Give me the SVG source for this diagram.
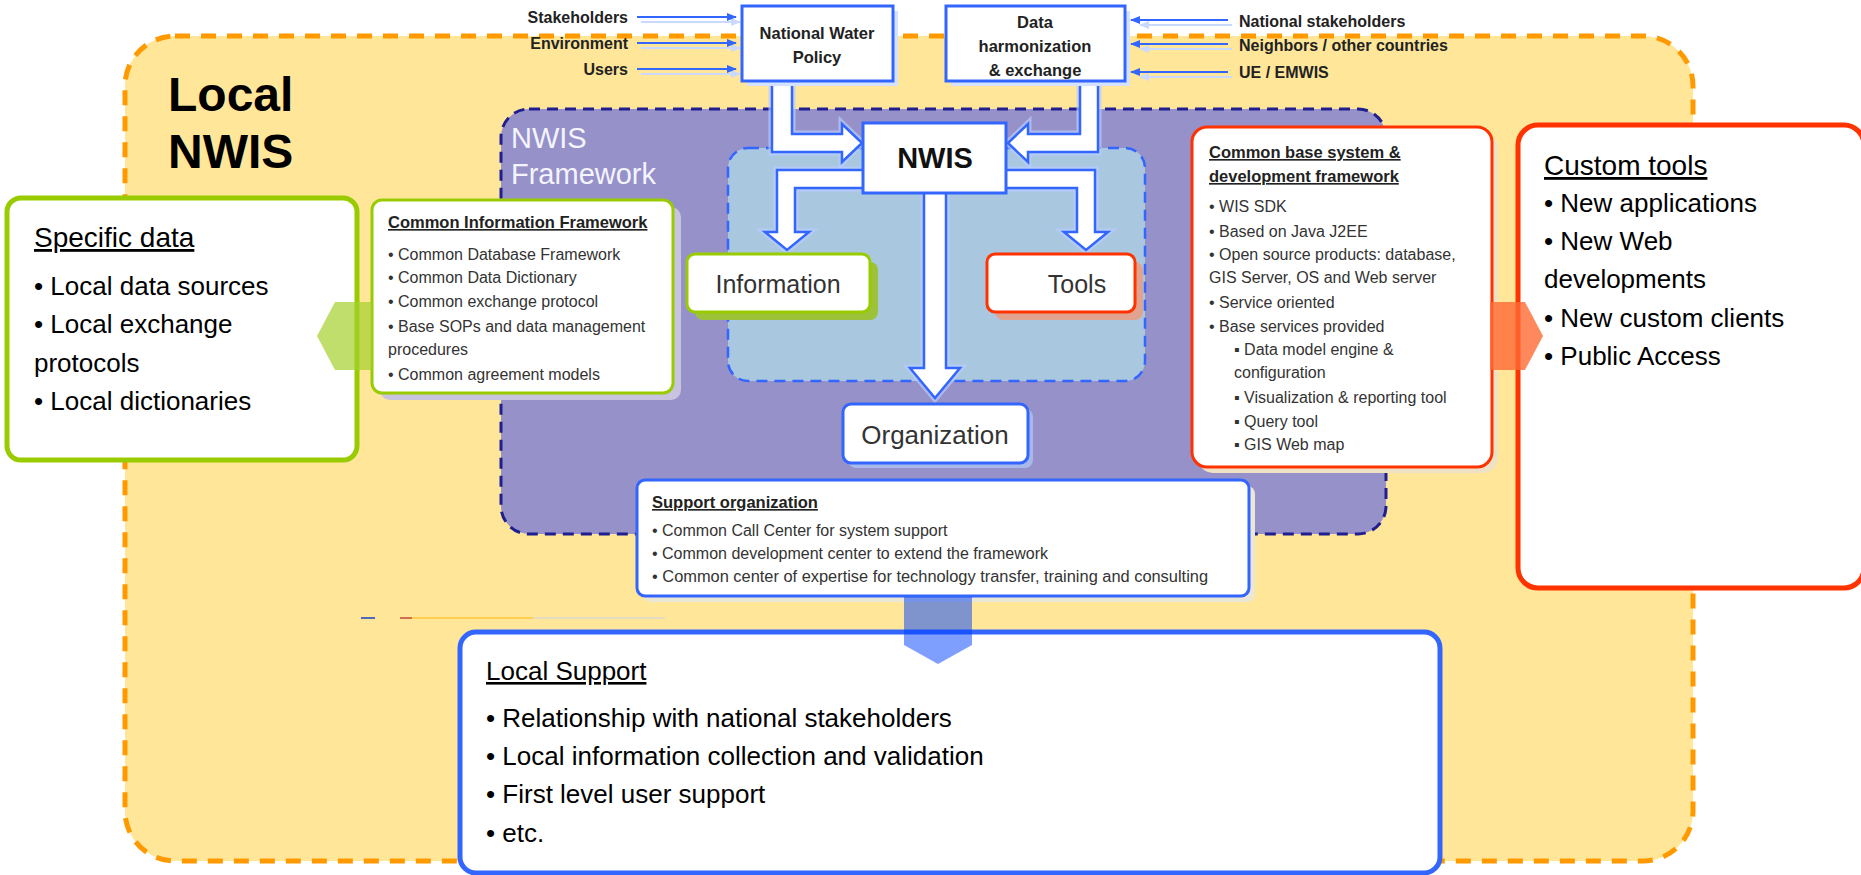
<svg xmlns="http://www.w3.org/2000/svg" width="1861" height="875" viewBox="0 0 1861 875">
<defs>
<style>
text{font-family:"Liberation Sans",Arial,sans-serif;}
.lbl{font-size:16px;font-weight:bold;fill:#222;}
.sm{font-size:16px;fill:#333;}
.smb{font-size:16.5px;font-weight:bold;fill:#222;text-decoration:underline;}
.big{font-size:26px;fill:#000;}
.bigt{font-size:28px;fill:#000;text-decoration:underline;}
.box{fill:#fff;}
.blk{fill:#fff;stroke:#3366FF;stroke-width:2.5;stroke-linejoin:miter;}
.blkglow{fill:none;stroke:#B8CCFF;stroke-width:7;stroke-linejoin:miter;opacity:.7;}
.thin{stroke:#3366FF;stroke-width:2;fill:none;}
.thinsh{stroke:#C9D9FF;stroke-width:2;fill:none;}
</style>
<marker id="ah" viewBox="0 0 10 8" refX="9" refY="4" markerWidth="10" markerHeight="8" markerUnits="userSpaceOnUse" orient="auto">
<path d="M0,0 L10,4 L0,8 Z" fill="#3366FF"/>
</marker>
<marker id="ahs" viewBox="0 0 10 8" refX="9" refY="4" markerWidth="10" markerHeight="8" markerUnits="userSpaceOnUse" orient="auto">
<path d="M0,0 L10,4 L0,8 Z" fill="#C9D9FF"/>
</marker>
</defs>
<rect width="1861" height="875" fill="#fff"/>

<!-- Outer Local NWIS -->
<g id="local-nwis">
<rect x="125" y="36" width="1568" height="825" rx="50" fill="#FFE699" stroke="#FF9900" stroke-width="5" stroke-dasharray="15 11"/>
<text x="168" y="111" style="font-size:48px;font-weight:bold;fill:#000">Local</text>
<text x="168" y="168" style="font-size:48px;font-weight:bold;fill:#000">NWIS</text>
</g>

<!-- artifact line -->
<g id="artifact">
<rect x="361" y="617" width="14" height="2" fill="#5566BB"/>
<rect x="400" y="617" width="12" height="2" fill="#D07050"/>
<rect x="412" y="617" width="121" height="2" fill="#FFD050"/>
<rect x="533" y="617" width="132" height="2" fill="#E6DDC0"/>
</g>

<!-- NWIS Framework -->
<g id="nwis-framework">
<rect x="501" y="109" width="885" height="425" rx="28" fill="#9691C8" stroke="#1F1F8F" stroke-width="3" stroke-dasharray="11 7"/>
<text x="511" y="148" style="font-size:29px;fill:#F4F4FF">NWIS</text>
<text x="511" y="184" style="font-size:29px;fill:#F4F4FF">Framework</text>
</g>

<g id="inner-frame">
<rect x="728" y="148" width="417" height="233" rx="20" fill="#A9C8E0" stroke="#3366FF" stroke-width="2.5" stroke-dasharray="11 7"/>
</g>

<!-- connectors -->
<g id="connectors">
<!-- thin input arrows -->
<line class="thinsh" x1="641" y1="22" x2="740" y2="22" marker-end="url(#ahs)"/>
<line class="thinsh" x1="641" y1="48" x2="740" y2="48" marker-end="url(#ahs)"/>
<line class="thinsh" x1="641" y1="74" x2="740" y2="74" marker-end="url(#ahs)"/>
<line class="thin" x1="637" y1="17" x2="736" y2="17" marker-end="url(#ah)"/>
<line class="thin" x1="637" y1="43" x2="736" y2="43" marker-end="url(#ah)"/>
<line class="thin" x1="637" y1="69" x2="736" y2="69" marker-end="url(#ah)"/>
<line class="thinsh" x1="1232" y1="25" x2="1140" y2="25" marker-end="url(#ahs)"/>
<line class="thinsh" x1="1232" y1="49" x2="1140" y2="49" marker-end="url(#ahs)"/>
<line class="thinsh" x1="1232" y1="77" x2="1140" y2="77" marker-end="url(#ahs)"/>
<line class="thin" x1="1228" y1="20" x2="1131" y2="20" marker-end="url(#ah)"/>
<line class="thin" x1="1228" y1="44" x2="1131" y2="44" marker-end="url(#ah)"/>
<line class="thin" x1="1228" y1="72" x2="1131" y2="72" marker-end="url(#ah)"/>

<!-- block arrows -->
<path class="blkglow" d="M772 76 L772 152 L842 152 L842 162 L862 143 L842 124 L842 134 L792 134 L792 76 Z"/>
<path class="blk" d="M772 76 L772 152 L842 152 L842 162 L862 143 L842 124 L842 134 L792 134 L792 76 Z"/>
<path class="blkglow" d="M1098 76 L1098 152 L1028 152 L1028 162 L1008 143 L1028 124 L1028 134 L1080 134 L1080 76 Z"/>
<path class="blk" d="M1098 76 L1098 152 L1028 152 L1028 162 L1008 143 L1028 124 L1028 134 L1080 134 L1080 76 Z"/>
<path class="blkglow" d="M868 170 L777 170 L777 232 L765 232 L787 250 L809 232 L795 232 L795 188 L868 188 Z"/>
<path class="blk" d="M868 170 L777 170 L777 232 L765 232 L787 250 L809 232 L795 232 L795 188 L868 188 Z"/>
<path class="blkglow" d="M1001 170 L1095 170 L1095 232 L1108 232 L1086 250 L1064 232 L1077 232 L1077 188 L1001 188 Z"/>
<path class="blk" d="M1001 170 L1095 170 L1095 232 L1108 232 L1086 250 L1064 232 L1077 232 L1077 188 L1001 188 Z"/>
<path class="blkglow" d="M924 188 L924 368 L910 368 L935 398 L960 368 L946 368 L946 188 Z"/>
<path class="blk" d="M924 188 L924 368 L910 368 L935 398 L960 368 L946 368 L946 188 Z"/>
</g>

<!-- top boxes -->
<g id="national-water-policy">
<rect x="747" y="11" width="151" height="75" fill="#D4E2FF"/>
<rect x="742" y="6" width="151" height="75" class="box" stroke="#3366FF" stroke-width="3"/>
<text x="817" y="39" text-anchor="middle" style="font-size:16.5px;font-weight:bold;fill:#222">National Water</text>
<text x="817" y="63" text-anchor="middle" style="font-size:16.5px;font-weight:bold;fill:#222">Policy</text>
</g>
<g id="data-harmonization">
<rect x="951" y="11" width="179" height="75" fill="#D4E2FF"/>
<rect x="946" y="6" width="179" height="75" class="box" stroke="#3366FF" stroke-width="3"/>
<text x="1035" y="28" text-anchor="middle" style="font-size:16.5px;font-weight:bold;fill:#222">Data</text>
<text x="1035" y="52" text-anchor="middle" style="font-size:16.5px;font-weight:bold;fill:#222">harmonization</text>
<text x="1035" y="76" text-anchor="middle" style="font-size:16.5px;font-weight:bold;fill:#222">&amp; exchange</text>
</g>
<g id="input-labels">
<text x="628" y="23" text-anchor="end" class="lbl">Stakeholders</text>
<text x="628" y="49" text-anchor="end" class="lbl">Environment</text>
<text x="628" y="75" text-anchor="end" class="lbl">Users</text>
<text x="1239" y="27" class="lbl">National stakeholders</text>
<text x="1239" y="51" class="lbl">Neighbors / other countries</text>
<text x="1239" y="78" class="lbl">UE / EMWIS</text>
</g>

<g id="nwis">
<rect x="863" y="123" width="143" height="70" class="box" stroke="#3366FF" stroke-width="3"/>
<text x="935" y="168" text-anchor="middle" style="font-size:29px;font-weight:bold;fill:#111">NWIS</text>
</g>

<g id="information">
<rect x="695" y="262" width="183" height="58" rx="8" fill="#9CC23A"/>
<rect x="687" y="254" width="183" height="58" rx="8" class="box" stroke="#99CC00" stroke-width="3"/>
<text x="778" y="293" text-anchor="middle" style="font-size:25px;fill:#333">Information</text>
</g>

<g id="tools">
<rect x="995" y="262" width="148" height="58" rx="8" fill="#E2A38E"/>
<rect x="987" y="254" width="148" height="58" rx="8" class="box" stroke="#FF3300" stroke-width="3"/>
<text x="1077" y="293" text-anchor="middle" style="font-size:25px;fill:#333">Tools</text>
</g>

<g id="organization">
<rect x="848" y="409" width="185" height="59" rx="8" fill="#A9B8EA"/>
<rect x="843" y="404" width="185" height="59" rx="8" class="box" stroke="#3366FF" stroke-width="3"/>
<text x="935" y="444" text-anchor="middle" style="font-size:26px;fill:#333">Organization</text>
</g>

<!-- Common Information Framework -->
<g id="common-information-framework">
<rect x="380" y="207" width="301" height="193" rx="10" fill="#C8C3DE"/>
<rect x="372" y="200" width="301" height="193" rx="10" class="box" stroke="#99CC00" stroke-width="3"/>
<text x="388" y="228" class="smb">Common Information Framework</text>
<text x="388" y="260" class="sm">• Common Database Framework</text>
<text x="388" y="283" class="sm">• Common Data Dictionary</text>
<text x="388" y="307" class="sm">• Common exchange protocol</text>
<text x="388" y="332" class="sm">• Base SOPs and data management</text>
<text x="388" y="355" class="sm">procedures</text>
<text x="388" y="380" class="sm">• Common agreement models</text>
</g>

<!-- Common base system -->
<g id="common-base-system">
<rect x="1198" y="133" width="300" height="340" rx="15" fill="#EFE2C4"/>
<rect x="1192" y="127" width="300" height="340" rx="15" class="box" stroke="#FF3300" stroke-width="3"/>
<text x="1209" y="158" class="smb">Common base system &amp;</text>
<text x="1209" y="182" class="smb">development framework</text>
<text x="1209" y="212" class="sm">• WIS SDK</text>
<text x="1209" y="237" class="sm">• Based on Java J2EE</text>
<text x="1209" y="260" class="sm">• Open source products: database,</text>
<text x="1209" y="283" class="sm">GIS Server, OS and Web server</text>
<text x="1209" y="308" class="sm">• Service oriented</text>
<text x="1209" y="332" class="sm">• Base services provided</text>
<text x="1234" y="355" class="sm">▪ Data model engine &amp;</text>
<text x="1234" y="378" class="sm">configuration</text>
<text x="1234" y="403" class="sm">▪ Visualization &amp; reporting tool</text>
<text x="1234" y="427" class="sm">▪ Query tool</text>
<text x="1234" y="450" class="sm">▪ GIS Web map</text>
</g>

<!-- Support organization -->
<g id="support-organization">
<rect x="643" y="486" width="612" height="116" rx="8" fill="#ECE6D4"/>
<rect x="637" y="480" width="612" height="116" rx="8" class="box" stroke="#3366FF" stroke-width="3"/>
<text x="652" y="508" class="smb">Support organization</text>
<text x="652" y="536" class="sm">• Common Call Center for system support</text>
<text x="652" y="559" class="sm">• Common development center to extend the framework</text>
<text x="652" y="582" class="sm" textLength="556" lengthAdjust="spacingAndGlyphs">• Common center of expertise for technology transfer, training and consulting</text>
</g>

<!-- Specific data -->
<g id="specific-data">
<rect x="7" y="198" width="350" height="262" rx="14" class="box" stroke="#99CC00" stroke-width="5"/>
<text x="34" y="247" class="bigt">Specific data</text>
<text x="34" y="295" class="big">• Local data sources</text>
<text x="34" y="333" class="big">• Local exchange</text>
<text x="34" y="372" class="big">protocols</text>
<text x="34" y="410" class="big">• Local dictionaries</text>
</g>

<!-- Custom tools -->
<g id="custom-tools">
<rect x="1518" y="125" width="346" height="463" rx="20" class="box" stroke="#FF3300" stroke-width="5"/>
<text x="1544" y="175" class="bigt">Custom tools</text>
<text x="1544" y="212" class="big">• New applications</text>
<text x="1544" y="250" class="big">• New Web</text>
<text x="1544" y="288" class="big">developments</text>
<text x="1544" y="327" class="big">• New custom clients</text>
<text x="1544" y="365" class="big">• Public Access</text>
</g>

<!-- Local Support -->
<g id="local-support">
<rect x="460" y="632" width="980" height="241" rx="16" class="box" stroke="#3366FF" stroke-width="5"/>
<text x="486" y="680" class="big" style="text-decoration:underline">Local Support</text>
<text x="486" y="727" class="big">• Relationship with national stakeholders</text>
<text x="486" y="765" class="big">• Local information collection and validation</text>
<text x="486" y="803" class="big">• First level user support</text>
<text x="486" y="842" class="big">• etc.</text>
</g>

<!-- wide transfer arrows -->
<g id="transfer-arrows">
<path d="M372 302 L335 302 L317 336 L335 370 L372 370 Z" fill="#A4D02C" opacity="0.7"/>
<path d="M1490 302 L1525 302 L1543 336 L1525 370 L1490 370 Z" fill="#FF6A33" opacity="0.8"/>
<path d="M904 597 L972 597 L972 645 L938 664 L904 645 Z" fill="#0040FF" opacity="0.5"/>
</g>
</svg>
